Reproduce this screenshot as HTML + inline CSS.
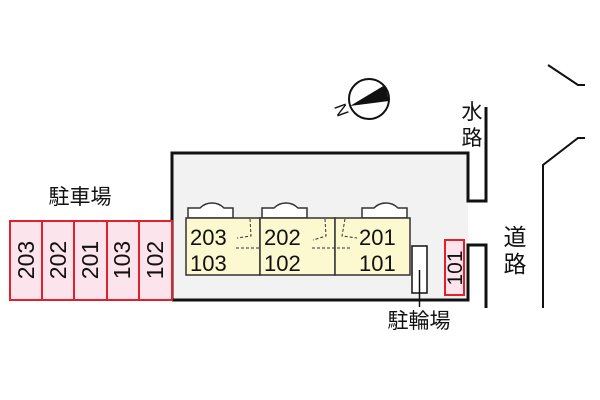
<!DOCTYPE html>
<html><head><meta charset="utf-8"><style>
body{margin:0;background:#fff;}
svg{display:block}
text{font-family:"Liberation Sans","Noto Sans CJK JP",sans-serif;}
</style></head><body>
<svg width="600" height="400" viewBox="0 0 600 400" xmlns="http://www.w3.org/2000/svg">
<rect width="600" height="400" fill="#fff"/>
<polygon points="172,153 468,153 468,300 172,300" fill="#f2f2f2"/>
<path d="M172,300 L172,153 L468,153 L468,201 L486,201 L486,107" fill="none" stroke="#111" stroke-width="3"/>
<path d="M486,308 L486,245 L468,245 L468,300 L172,300" fill="none" stroke="#111" stroke-width="3"/>
<path d="M548,65 L578,85 L585,85" fill="none" stroke="#111" stroke-width="2"/>
<path d="M585,138 L578,138 L543,165 L543,308" fill="none" stroke="#111" stroke-width="2"/>
<g stroke="#e0202a" stroke-width="2" fill="#fbe4ec">
<rect x="10" y="221" width="32" height="79"/>
<rect x="42" y="221" width="32" height="79"/>
<rect x="74" y="221" width="33" height="79"/>
<rect x="107" y="221" width="32" height="79"/>
<rect x="139" y="221" width="33" height="79"/>
</g>
<g font-size="23" fill="#111" text-anchor="middle">
<text transform="translate(34,260) rotate(-90)">203</text>
<text transform="translate(66,260) rotate(-90)">202</text>
<text transform="translate(98,260) rotate(-90)">201</text>
<text transform="translate(130,260) rotate(-90)">103</text>
<text transform="translate(163,260) rotate(-90)">102</text>
</g>
<text x="80" y="204" font-size="21" fill="#111" text-anchor="middle">駐車場</text>
<g fill="#fff" stroke="#333" stroke-width="1.5">
<path d="M188,218 L188,208 L200,208 Q205,203 212,203 Q219,203 224,208 L233,208 L233,218Z"/>
<path d="M262,218 L262,208 L274,208 Q279,203 286,203 Q293,203 298,208 L307,208 L307,218Z"/>
<path d="M362,218 L362,208 L374,208 Q379,203 386,203 Q393,203 398,208 L407,208 L407,218Z"/>
</g>
<g fill="#fcf8cf" stroke="#333" stroke-width="1.5">
<rect x="186" y="218" width="74" height="57"/>
<rect x="260" y="218" width="75" height="57"/>
<rect x="335" y="218" width="75" height="57"/>
</g>
<g stroke="#333" stroke-width="1" stroke-dasharray="3,2" fill="none">
<path d="M250,219 L251,236 L237,238"/>
<path d="M236,248 L259,248"/>
<path d="M325,219 L326,236 L313,240"/>
<path d="M312,248 L350,248"/>
<path d="M345,219 L342,236 L357,238"/>
</g>
<g font-size="22" fill="#111">
<text x="190" y="245">203</text>
<text x="190" y="271">103</text>
<text x="264" y="245">202</text>
<text x="264" y="271">102</text>
<text x="359" y="245">201</text>
<text x="359" y="271">101</text>
</g>
<rect x="412" y="246" width="15" height="47" fill="#fff" stroke="#111" stroke-width="1.5"/>
<line x1="419.5" y1="270" x2="419.5" y2="307" stroke="#111" stroke-width="1.5"/>
<text x="419" y="328" font-size="21" fill="#111" text-anchor="middle">駐輪場</text>
<rect x="445" y="240" width="19" height="55" fill="#fbe4ec" stroke="#e0202a" stroke-width="2"/>
<text transform="translate(462,268) rotate(-90)" font-size="21" fill="#111" text-anchor="middle">101</text>
<text x="472" y="119" font-size="21" fill="#111" text-anchor="middle">水</text>
<text x="472" y="145" font-size="21" fill="#111" text-anchor="middle">路</text>
<text x="515" y="245" font-size="23" fill="#111" text-anchor="middle">道</text>
<text x="515" y="272" font-size="23" fill="#111" text-anchor="middle">路</text>
<circle cx="369" cy="99" r="20" fill="#fff" stroke="#111" stroke-width="2"/>
<polygon points="350,106 385,85 389,101" fill="#111"/>
<text transform="translate(347,108) rotate(-110)" font-size="17" fill="#111" text-anchor="middle">N</text>
</svg>
</body></html>
